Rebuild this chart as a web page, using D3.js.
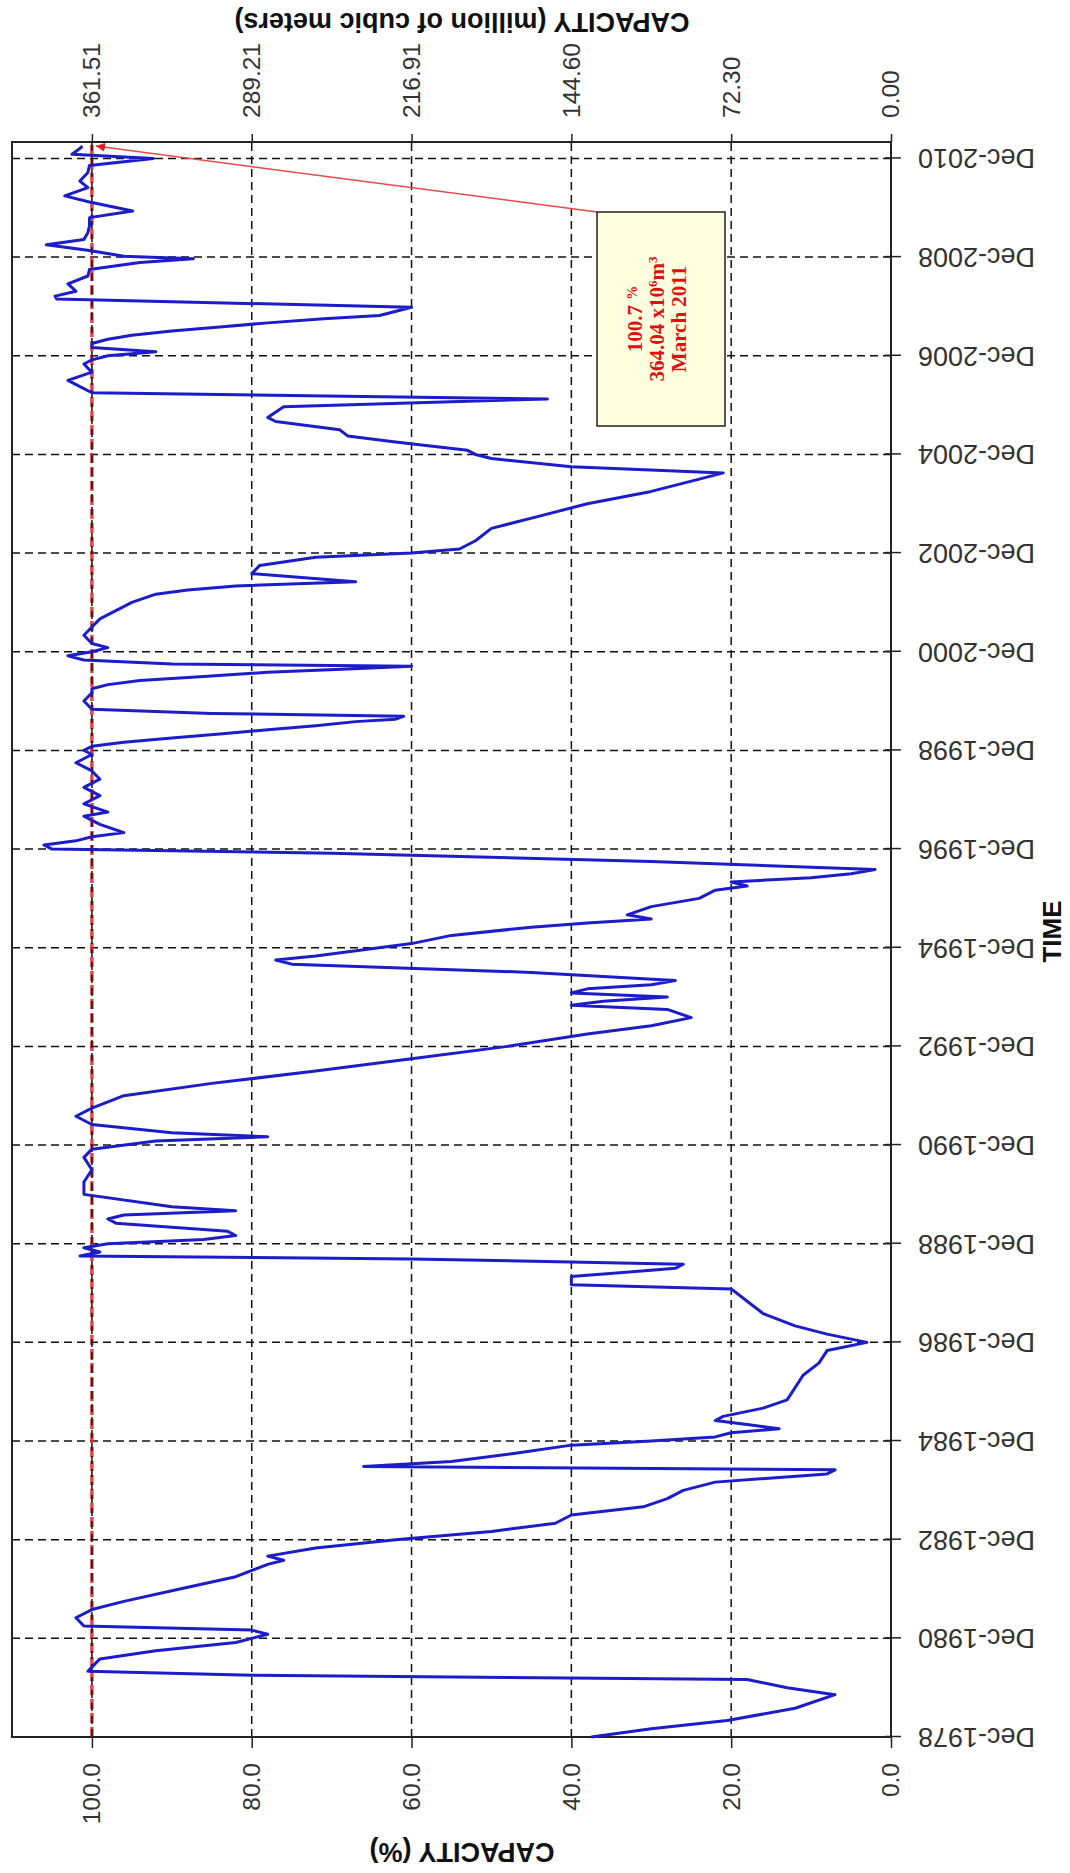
<!DOCTYPE html>
<html><head><meta charset="utf-8">
<script src="https://cdn.jsdelivr.net/npm/d3@7"></script>
<style>body{margin:0;background:#fff}svg{display:block}</style>
</head><body>
<svg id="chart" width="1070" height="1873"></svg>
<script>
// ---- data: months elapsed since Dec-1978, and reservoir capacity (%) ----
const monthOffsets = [
  0,2,4,7,10.3,12,14,15,16,19,21,23,25,26,27,29,31,33,36,39,42,43,44,46,48,50,52,54,56,58,60,62,64,65,65.8,67,69,71,72,73,74,75,76,77,78,80,82,85,88,91,94,96,98,100,103,106,109,110,112,114,115,116.3,117,118,119,120,121,122,123,125,126,127,128,129,132,135,138,141,143,145,146,147,149,151,153,156,159,162,165,168,171,173,175,177,178,179,180,181,182,183,184,186,188,189,190,193,195,197,198,199,200,202,204,206,207,208,209,210,211,213,215,216,217,218,219,220,222,224,225,227,229,231,233,235,237,239,240,241,242,243,244,245,246,247,247.6,248.3,249,250,252,254,255,256,257,258,259,259.8,260.5,261,262,263,264,265,266,268,270,272,274,276,278,279,280,281,283,285,287,288,289,291,294,297,300,303,306,307.5,309,311,312,313,315,316.5,318,320,321,323.6,325.5,327,328,330,332,334,335,336,337,338,339,340,341,342,343,344,345,345.8,347.8,349.8,350.5,351.7,353.5,355.4,357,358.7,359.6,360.2,361.6,363,364.3,366,367.6,369.6,371.2,373.4,374.9,376.9,378.5,380.6,382.3,384,385,386.4,387];
const capacityPct = [
  37.5,30,20.5,12,7,13,18,80,100.5,99,92,82,78,80,101,102,100,96,89,82,78,76,78,72,62,50,42,40,31,28,26,22,8,7,66,55,47,40,30,22,20,14,18,22,21,16,13,12,11,9,8,3,8,12,16,18,20,40,40,27,26,60,101.5,99,101,98,86,82,83,97,98,96,82,90,101,101,100,101,100,92,78,90,100,102,100,96,85,72,60,48,38,30,25,28,40,36,28,40,38,30,27,45,75,77,72,60,55,45,38,30,33,30,24,22,18,20,10,5,2,30,70,105,106,102,100,96,99,101,98,101,99,101,99,100,102,100,101,100,96,90,84,78,72,67,62,61,85,100,101,100,100,98,94,86,78,68,60,90,101,103,100,98,100,101,100,99,97,95,92,88,82,67,80,79,72,60,54,52,50,44,38,30,24,21,40,50,52,53,62,68,69,77,78,76,43,100,101,103,100,101,100,98,92,100,100,98,95,90,84,78,71,64,60,104.4,104.6,102,103,100.5,100.3,94,87.3,96,100.3,105.7,101,100.5,100.3,100.3,94.9,100.3,103.4,100.5,101.5,100.5,100.3,92.3,102.5,101.5,101.2,100.7];

const valueTicks = [0, 20, 40, 60, 80, 100];
const volumeTickLabels = ["0.00", "72.30", "144.60", "216.91", "289.21", "361.51"];
const timeTickMonths = [0,24,48,72,96,120,144,168,192,216,240,264,288,312,336,360,384];
const annotationLines = ["100.7 ", "%", "364.04 x10", "6", "m", "3", "March 2011"];

// ---- layout in the unrotated (landscape) frame; the whole chart is turned -90° ----
const W = 1873;
const plot = {left: 136, right: 1731, top: 12, bottom: 891};

const x = d3.scaleLinear().domain([0, 388]).range([plot.left, plot.right]);
const y = d3.scaleLinear().domain([0, 110]).range([plot.bottom, plot.top]);

const data = monthOffsets.map((m, i) => ({m, value: capacityPct[i]}));

const svg = d3.select("#chart");
const g = svg.append("g").attr("transform", `translate(0,${W}) rotate(-90)`);

const fmt = m => "Dec-" + (1978 + m / 12);
const labelFont = "'Liberation Sans', Arial, sans-serif";

// grid
g.append("g").selectAll("line").data(timeTickMonths.slice(1)).join("line")
  .attr("x1", d => x(d)).attr("x2", d => x(d))
  .attr("y1", plot.top).attr("y2", plot.bottom)
  .attr("stroke", "#111").attr("stroke-width", 1.5).attr("stroke-dasharray", "8,5");

// 100% reference line (red dashed)
g.append("line")
  .attr("x1", plot.left).attr("x2", plot.right)
  .attr("y1", y(100)).attr("y2", y(100))
  .attr("stroke", "#e02a2a").attr("stroke-width", 3.5).attr("stroke-dasharray", "10,4").attr("opacity", 0.85);

g.append("g").selectAll("line").data(valueTicks.slice(1)).join("line")
  .attr("x1", plot.left).attr("x2", plot.right)
  .attr("y1", d => y(d)).attr("y2", d => y(d))
  .attr("stroke", "#111").attr("stroke-width", 1.5).attr("stroke-dasharray", "8,5");

// frame
g.append("rect").attr("x", plot.left).attr("y", plot.top)
  .attr("width", plot.right - plot.left).attr("height", plot.bottom - plot.top)
  .attr("fill", "none").attr("stroke", "#222").attr("stroke-width", 2);

// bottom (time) axis
const xAxis = d3.axisBottom(x).tickValues(timeTickMonths).tickFormat(fmt).tickSizeInner(10).tickSizeOuter(0);
const gx = g.append("g").attr("transform", `translate(0,${plot.bottom})`).call(xAxis);
gx.select(".domain").remove();
gx.selectAll(".tick line").attr("y1", -6).attr("stroke", "#222").attr("stroke-width", 1.5);
gx.selectAll(".tick text")
  .attr("font-family", labelFont).attr("font-size", 27).attr("fill", "#333")
  .attr("text-anchor", "end").attr("y", 0).attr("dy", "0.35em")
  .attr("transform", "translate(-1,27) rotate(-90)");

// left axis (%)
const yAxis = d3.axisLeft(y).tickValues(valueTicks).tickFormat(d3.format(".1f")).tickSizeInner(11).tickSizeOuter(0);
const gy = g.append("g").attr("transform", `translate(${plot.left},0)`).call(yAxis);
gy.select(".domain").remove();
gy.selectAll(".tick line").attr("stroke", "#222").attr("stroke-width", 1.5);
gy.selectAll(".tick text").attr("font-family", labelFont).attr("font-size", 24.5).attr("fill", "#333").attr("x", -26);

// right axis (million m3)
const yAxisR = d3.axisRight(y).tickValues(valueTicks).tickFormat((d, i) => volumeTickLabels[i]).tickSizeInner(8).tickSizeOuter(0);
const gr = g.append("g").attr("transform", `translate(${plot.right},0)`).call(yAxisR);
gr.select(".domain").remove();
gr.selectAll(".tick line").attr("stroke", "#222").attr("stroke-width", 1.5);
gr.selectAll(".tick text").attr("font-family", labelFont).attr("font-size", 24.5).attr("fill", "#333").attr("x", 24);

// axis titles
g.append("text").attr("x", (plot.left + plot.right) / 2 + 8).attr("y", 1061)
  .attr("text-anchor", "middle").attr("font-family", labelFont).attr("font-weight", "bold")
  .attr("font-size", 26).attr("fill", "#111").text("TIME");
g.append("text").attr("transform", `translate(30,462) rotate(-90)`)
  .attr("text-anchor", "middle").attr("font-family", labelFont).attr("font-weight", "bold")
  .attr("font-size", 27).attr("fill", "#111").text("CAPACITY (%)");
g.append("text").attr("transform", `translate(1860,462) rotate(-90)`)
  .attr("text-anchor", "middle").attr("font-family", labelFont).attr("font-weight", "bold")
  .attr("font-size", 27).attr("fill", "#111").text("CAPACITY (million of cubic meters)");

// data line
const line = d3.line().x(d => x(d.m)).y(d => y(d.value));
g.append("path").datum(data).attr("d", line)
  .attr("fill", "none").attr("stroke", "#1c1cc8").attr("stroke-width", 3).attr("stroke-linejoin", "round");

// annotation
const last = data[data.length - 1];
const box = {x: 1447, y: 597, w: 214, h: 128};
svg.append("defs").append("marker").attr("id", "arr")
  .attr("viewBox", "0 0 10 10").attr("refX", 10).attr("refY", 5)
  .attr("markerWidth", 6).attr("markerHeight", 6).attr("orient", "auto")
  .append("path").attr("d", "M0,0L10,5L0,10z").attr("fill", "#e81c1c");
g.append("line").attr("x1", box.x + box.w).attr("y1", box.y)
  .attr("x2", x(last.m)).attr("y2", y(99.5))
  .attr("stroke", "#e84a4a").attr("stroke-width", 1.5).attr("marker-end", "url(#arr)");
g.append("rect").attr("x", box.x).attr("y", box.y).attr("width", box.w).attr("height", box.h)
  .attr("fill", "#ffffe0").attr("stroke", "#222").attr("stroke-width", 1.5);
const serif = "'Liberation Serif', 'Times New Roman', serif";
const cx = box.x + box.w / 2;
const t1 = g.append("text").attr("x", cx).attr("y", 642).attr("text-anchor", "middle")
  .attr("font-family", serif).attr("font-weight", "bold").attr("font-size", 21).attr("fill", "#e01010");
t1.append("tspan").text(annotationLines[0]);
t1.append("tspan").attr("font-size", 14).attr("baseline-shift", "35%").text(annotationLines[1]);
const t2 = g.append("text").attr("x", cx).attr("y", 664).attr("text-anchor", "middle")
  .attr("font-family", serif).attr("font-weight", "bold").attr("font-size", 21).attr("fill", "#e01010");
t2.append("tspan").text(annotationLines[2]);
t2.append("tspan").attr("font-size", 13).attr("baseline-shift", "super").text(annotationLines[3]);
t2.append("tspan").text(annotationLines[4]);
t2.append("tspan").attr("font-size", 13).attr("baseline-shift", "super").text(annotationLines[5]);
g.append("text").attr("x", cx).attr("y", 686).attr("text-anchor", "middle")
  .attr("font-family", serif).attr("font-weight", "bold").attr("font-size", 21).attr("fill", "#e01010")
  .text(annotationLines[6]);
</script>
</body></html>
